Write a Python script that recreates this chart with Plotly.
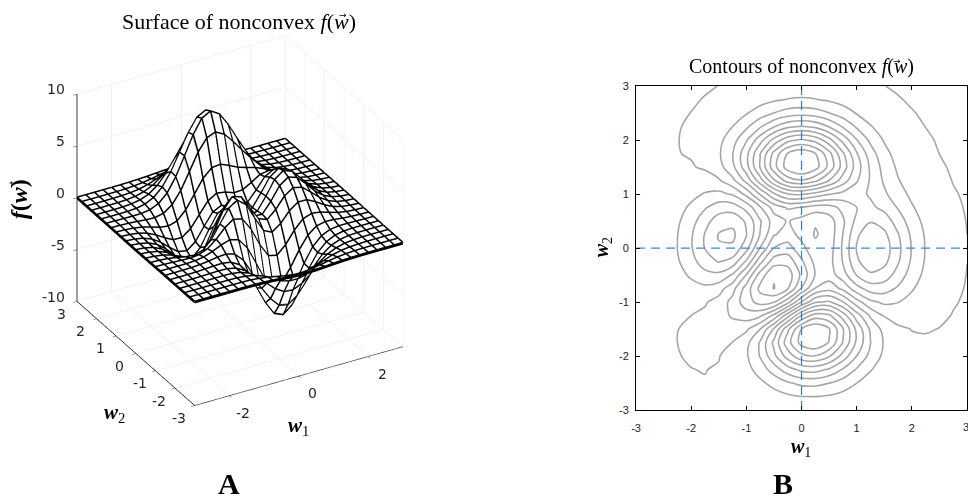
import plotly.graph_objects as go

w1 = [-3, -2.75, -2.5, -2.25, -2, -1.75, -1.5, -1.25, -1, -0.75, -0.5, -0.25, 0,
      0.25, 0.5, 0.75, 1, 1.25, 1.5, 1.75, 2, 2.25, 2.5, 2.75, 3]
w2 = list(w1)

f_values = [
 [0,0,0,0,0,.01,0,-.01,-.03,-.08,-.14,-.2,-.25,-.25,-.22,-.17,-.11,-.06,-.03,-.01,0,0,0,0,0],
 [0,0,0,0,.01,.01,0,-.02,-.1,-.22,-.39,-.56,-.68,-.69,-.61,-.46,-.3,-.17,-.08,-.03,-.01,0,0,0,0],
 [0,0,0,.008,.015,.019,.003,-.07,-.23,-.53,-.91,-1.31,-1.57,-1.6,-1.41,-1.06,-.69,-.38,-.18,-.08,-.03,-.01,0,0,0],
 [0,0,.006,.014,.027,.036,.007,-.12,-.44,-.99,-1.74,-2.51,-3.02,-3.1,-2.72,-2.05,-1.32,-.73,-.35,-.14,-.05,-.01,0,0,0],
 [0,0,.009,.023,.047,.07,.045,-.13,-.59,-1.45,-2.64,-3.88,-4.76,-4.93,-4.35,-3.27,-2.1,-1.15,-.53,-.2,-.06,-.01,0,0,0],
 [0,0,.01,.03,.07,.127,.153,.02,-.46,-1.48,-3,-4.69,-5.97,-6.33,-5.64,-4.24,-2.69,-1.42,-.61,-.2,-.044,.001,.006,.004,.002],
 [0,0,.005,.025,.079,.185,.326,.39,.15,-.68,-2.19,-4.08,-5.68,-6.33,-5.76,-4.32,-2.64,-1.27,-.44,-.07,.043,.045,.026,.011,.004],
 [0,-.01,-.014,-.012,.03,.167,.45,.84,1.11,.88,-.14,-1.84,-3.6,-4.6,-4.4,-3.22,-1.74,-.56,.079,.27,.23,.13,.06,.023,.007],
 [-.01,-.02,-.06,-.1,-.13,-.04,.3,.98,1.86,2.45,2.22,1,-.72,-2.02,-2.22,-1.43,-.27,.58,.88,.77,.5,.26,.11,.041,.013],
 [-.02,-.05,-.12,-.25,-.42,-.51,-.28,.49,1.78,3.09,3.63,2.94,1.4,-.01,-.41,.2,1.18,1.79,1.78,1.35,.82,.41,.18,.064,.019],
 [-.02,-.08,-.2,-.44,-.8,-1.16,-1.21,-.6,.8,2.49,3.55,3.3,2,.7,.39,1.14,2.2,2.76,2.56,1.87,1.12,.56,.24,.086,.026],
 [-.03,-.1,-.27,-.6,-1.14,-1.78,-2.16,-1.84,-.57,1.23,2.56,2.63,1.59,.53,.48,1.5,2.76,3.37,3.09,2.25,1.34,.67,.28,.1,.031],
 [-.04,-.11,-.3,-.69,-1.33,-2.14,-2.77,-2.71,-1.65,.06,1.48,1.75,.98,.19,.37,1.57,2.94,3.58,3.27,2.37,1.41,.7,.3,.11,.032],
 [-.03,-.11,-.29,-.67,-1.32,-2.16,-2.87,-2.98,-2.15,-.65,.68,1.06,.52,-.03,.28,1.47,2.76,3.36,3.06,2.22,1.32,.66,.28,.1,.03],
 [-.03,-.09,-.25,-.57,-1.12,-1.85,-2.49,-2.64,-2,-.76,.39,.8,.46,.09,.38,1.34,2.38,2.83,2.56,1.84,1.09,.54,.23,.08,.025],
 [-.02,-.07,-.18,-.42,-.82,-1.33,-1.76,-1.78,-1.16,-.05,1.04,1.55,1.42,1.12,1.17,1.65,2.17,2.32,1.99,1.4,.82,.4,.17,.06,.018],
 [-.01,-.04,-.11,-.25,-.48,-.74,-.86,-.6,.23,1.51,2.79,3.59,3.69,3.34,2.93,2.66,2.43,2.08,1.58,1.04,.58,.28,.11,.041,.012],
 [-.01,-.02,-.06,-.12,-.2,-.23,-.056,.55,1.69,3.29,4.92,6.06,6.39,5.94,5.02,3.97,2.97,2.09,1.35,.79,.41,.19,.07,.025,.007],
 [0,-.01,-.02,-.029,-.012,.109,.478,1.27,2.61,4.37,6.2,7.54,8,7.48,6.25,4.72,3.25,2.05,1.19,.62,.29,.124,.046,.015,.004],
 [0,0,-.001,.013,.07,.24,.65,1.43,2.67,4.29,5.96,7.22,7.67,7.19,5.99,4.44,2.96,1.78,.96,.47,.21,.081,.029,.009,.002],
 [0,0,.005,.023,.08,.23,.55,1.16,2.1,3.31,4.56,5.51,5.86,5.5,4.57,3.37,2.21,1.29,.68,.32,.13,.05,.017,.005,0],
 [0,0,.005,.018,.057,.15,.36,.74,1.32,2.07,2.84,3.43,3.65,3.43,2.84,2.09,1.36,.79,.41,.19,.075,.028,.009,.002,0],
 [0,0,.002,.01,.032,.083,.19,.39,.69,1.07,1.47,1.77,1.88,1.77,1.47,1.08,.7,.4,.21,.092,.037,.013,.004,0,0],
 [0,0,0,.005,.014,.037,.084,.17,.3,.47,.64,.77,.82,.77,.64,.47,.3,.17,.088,.038,.015,.005,.001,0,0],
 [0,0,0,.002,.006,.014,.032,.063,.11,.17,.23,.28,.3,.28,.23,.17,.11,.063,.032,.014,.006,.002,0,0,0],
]

contour_start = -5.682
contour_end = 7.2
contour_step = 0.714
ticks_xy = [-3, -2, -1, 0, 1, 2, 3]
ticks_z = [-10, -5, 0, 5, 10]
ticks_w1_3d = [-2, 0, 2]
labels_x = ["-3", "-2", "-1", "0", "1", "2", ""]
labels_y = ["-3", "-2", "-1", "0", "1", "2", "3"]

W, H = 968, 499
SANS = "Liberation Sans"
SERIF = "Liberation Serif"
SCALE = 1.115
SHEET_GAP = 0.07  # white sheet sits between a top-side and an under-side copy of the mesh

fig = go.Figure()

no_lines = dict(show=False, highlight=False)
fig.add_trace(go.Surface(
    x=w1, y=w2, z=f_values, scene="scene",
    colorscale=[[0, "white"], [1, "white"]], showscale=False,
    lighting=dict(ambient=1, diffuse=0, specular=0, fresnel=0, roughness=1),
    contours=dict(x=no_lines, y=no_lines, z=no_lines),
    hoverinfo="skip",
))

def add_mesh(lift):
    mx, my, mz = [], [], []
    for j, yv in enumerate(w2):
        for i, xv in enumerate(w1):
            mx.append(xv); my.append(yv); mz.append(f_values[j][i] + lift)
        mx.append(None); my.append(None); mz.append(None)
    for i, xv in enumerate(w1):
        for j, yv in enumerate(w2):
            mx.append(xv); my.append(yv); mz.append(f_values[j][i] + lift)
        mx.append(None); my.append(None); mz.append(None)
    fig.add_trace(go.Scatter3d(x=mx, y=my, z=mz, mode="lines", scene="scene",
                               line=dict(color="black", width=3), hoverinfo="skip",
                               connectgaps=False, showlegend=False))

add_mesh(SHEET_GAP)
add_mesh(-SHEET_GAP)

fig.add_trace(go.Contour(
    x=w1, y=w2, z=f_values, xaxis="x", yaxis="y",
    contours=dict(coloring="lines", start=contour_start, end=contour_end, size=contour_step),
    line=dict(color="#a6a6a6", width=1.6, smoothing=0.85),
    colorscale=[[0, "#a6a6a6"], [1, "#a6a6a6"]],
    showscale=False, hoverinfo="skip",
))
fig.add_trace(go.Scatter(x=[-3, 3], y=[0, 0], mode="lines", hoverinfo="skip",
                         line=dict(color="#2b8fd8", width=1.2, dash="9px,6px"), showlegend=False))
fig.add_trace(go.Scatter(x=[0, 0], y=[-3, 3], mode="lines", hoverinfo="skip",
                         line=dict(color="#2b7fc4", width=1.2, dash="9px,6px"), showlegend=False))

axis3d = dict(showbackground=False, showgrid=True, gridcolor="#e3e3e3", gridwidth=1,
              showline=True, linecolor="black", linewidth=1.5, zeroline=False,
              ticks="outside", tickcolor="#333333", ticklen=4, title=dict(text=""),
              showticklabels=False, showspikes=False)

def axis2d(domain, standoff, labels):
    return dict(domain=domain, range=[-3, 3], tickvals=ticks_xy, ticktext=labels,
                ticks="inside", ticklen=4, tickcolor="black", showline=True, linecolor="black",
                linewidth=1, mirror="ticks", showgrid=False, zeroline=False,
                ticklabelstandoff=standoff,
                tickfont=dict(family=SANS, size=11, color="#222222"))

tick3d_font = dict(family="DejaVu Sans", size=14, color="#262626")
scene_notes = []
for t in ticks_z:
    scene_notes.append(dict(x=-3, y=3, z=t, text=str(t), showarrow=False, font=tick3d_font,
                            xanchor="right", xshift=-10, yshift=5))
for t in ticks_xy:
    scene_notes.append(dict(x=-3, y=t, z=-10, text=str(t), showarrow=False, font=tick3d_font,
                            xanchor="center", xshift=-16, yshift=-12))
for t in ticks_w1_3d:
    scene_notes.append(dict(x=t, y=-3, z=-10, text=str(t), showarrow=False, font=tick3d_font,
                            xanchor="center", xshift=14, yshift=-17))

fig.update_layout(
    width=W, height=H, margin=dict(l=0, r=0, t=0, b=0),
    paper_bgcolor="white", plot_bgcolor="white", showlegend=False,
    scene=dict(
        domain=dict(x=[0, 473 / W], y=[1 - 440 / H, 1]),
        xaxis=dict(axis3d, range=[-3, 3], tickvals=ticks_w1_3d),
        yaxis=dict(axis3d, range=[-3, 3], tickvals=ticks_xy),
        zaxis=dict(axis3d, range=[-10, 10], tickvals=ticks_z),
        aspectmode="manual", aspectratio=dict(x=SCALE, y=SCALE, z=SCALE),
        camera=dict(projection=dict(type="orthographic"),
                    eye=dict(x=-0.565, y=-1.0, z=0.663),
                    up=dict(x=0, y=0, z=1), center=dict(x=0, y=0, z=0)),
        annotations=scene_notes,
    ),
    xaxis=axis2d([635 / W, 1], 8, labels_x),
    yaxis=axis2d([1 - 414 / H, 1 - 82 / H], 4, labels_y),
)

def note(text, px, py, size, family=SERIF, angle=0, color="black"):
    fig.add_annotation(text=text, x=px / W, y=1 - py / H, xref="paper", yref="paper",
                       showarrow=False, xanchor="center", yanchor="middle", textangle=angle,
                       font=dict(family=family, size=size, color=color))

note("Surface of nonconvex <i>f</i>(<i>w</i>)", 235, 16, 22)
note("\u2192", 340, 9, 9, family="DejaVu Sans")
note("Contours of nonconvex <i>f</i>(<i>w</i>)", 801, 62, 20)
note("\u2192", 898, 56, 9, family="DejaVu Sans")
note("<b><i>f</i>(<i>w</i>)</b>", 14, 198, 24, angle=-90)
note("\u2192", 6, 183, 9, family="DejaVu Sans", angle=-90)
note("<b><i>w</i></b><sub>2</sub>", 110, 417, 21)
note("<b><i>w</i></b><sub>1</sub>", 295, 430, 21)
note("<b><i>w</i></b><sub>2</sub>", 601, 247, 20, angle=-90)
note("<b><i>w</i></b><sub>1</sub>", 801, 452, 20)
note("<b>A</b>", 225, 489, 30)
note("<b>B</b>", 783, 489, 30)
note("3", 967, 431, 11, family=SANS, color="#222222")

fig.write_html("out.html", post_script="document.body.style.margin='0';",
               config=dict(displayModeBar=False))
